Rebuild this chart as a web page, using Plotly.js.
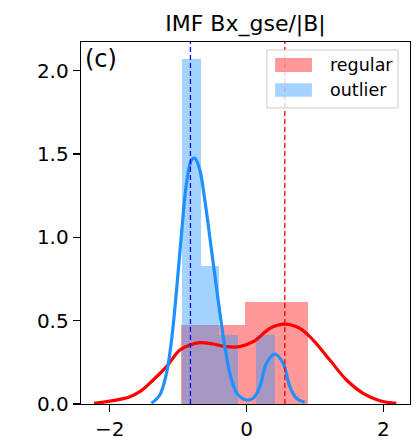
<!DOCTYPE html>
<html>
<head>
<meta charset="utf-8">
<script src="https://cdn.plot.ly/plotly-3.0.1.min.js"></script>
<style>
  html, body { margin: 0; padding: 0; background: #fff; }
  #chart { width: 416px; height: 442px; }
</style>
</head>
<body>
<div id="chart"></div>
<script>
// ── Data ─────────────────────────────────────────────────────────────────────
// Histogram bin edges + density heights
const regularEdges   = [-0.955, -0.4875, -0.025, 0.4375, 0.905];
const regularDensity = [0.474, 0.474, 0.61, 0.61];
const outlierEdges   = [-0.94, -0.669, -0.398, -0.127, 0.144, 0.415];
const outlierDensity = [2.07, 0.828, 0.414, 0, 0.414];

// KDE curves (sampled by eye)
const regularKdeX = [-2.23, -1.95, -1.706, -1.56, -1.365, -1.17, -0.975, -0.829, -0.683, -0.488,
                     -0.292, -0.098, 0.097, 0.195, 0.34, 0.56, 0.78, 0.974, 1.218, 1.462,
                     1.705, 1.949, 2.19];
const regularKdeY = [0.004, 0.02, 0.044, 0.074, 0.144, 0.224, 0.324, 0.354, 0.368, 0.36,
                     0.344, 0.344, 0.374, 0.404, 0.454, 0.48, 0.454, 0.384, 0.264, 0.144,
                     0.064, 0.02, 0.004];
const outlierKdeX = [-1.39, -1.268, -1.17, -1.096, -1.023, -0.95, -0.877, -0.804, -0.756, -0.683,
                     -0.61, -0.512, -0.415, -0.317, -0.219, -0.122, 0.0, 0.097, 0.195, 0.292,
                     0.414, 0.535, 0.633, 0.731, 0.852];
const outlierKdeY = [0.004, 0.054, 0.184, 0.384, 0.684, 1.025, 1.325, 1.465, 1.475, 1.405,
                     1.224, 0.924, 0.624, 0.344, 0.144, 0.054, 0.024, 0.034, 0.104, 0.244,
                     0.30, 0.244, 0.104, 0.034, 0.01];

// Means (dashed verticals)
const regularMean = 0.56;
const outlierMean = -0.82;

const seriesNames = ['regular', 'outlier'];
const xTicks = [-2, 0, 2];
const yTicks = [0, 0.5, 1.0, 1.5, 2.0];

// ── Styling ──────────────────────────────────────────────────────────────────
const RED       = '#ff0000';
const BLUE      = '#1e90ff';   // dodgerblue
const RED_FILL  = 'rgba(255,0,0,0.4)';
const BLUE_FILL = 'rgba(30,144,255,0.4)';
const FONT      = 'DejaVu Sans, sans-serif';

// edges -> centers/widths
function bins(edges) {
  const c = [], w = [];
  for (let i = 0; i < edges.length - 1; i++) {
    c.push((edges[i] + edges[i + 1]) / 2);
    w.push(edges[i + 1] - edges[i]);
  }
  return { c, w };
}

const rb = bins(regularEdges);
const ob = bins(outlierEdges);

const traces = [
  { type: 'bar', x: rb.c, y: regularDensity, width: rb.w,
    marker: { color: RED_FILL, line: { width: 0 } }, hoverinfo: 'skip' },
  { type: 'scatter', mode: 'lines', x: regularKdeX, y: regularKdeY,
    line: { color: RED, width: 3.2, shape: 'spline', smoothing: 1 } },
  { type: 'bar', x: ob.c, y: outlierDensity, width: ob.w,
    marker: { color: BLUE_FILL, line: { width: 0 } }, hoverinfo: 'skip' },
  { type: 'scatter', mode: 'lines', x: outlierKdeX, y: outlierKdeY,
    line: { color: BLUE, width: 3.2, shape: 'spline', smoothing: 1 } },
];

// ── Legend (drawn by hand to get matplotlib-style wide swatches) ─────────────
const legendBox = { x0: 0.565, x1: 0.9635, y0: 0.818, y1: 0.978 };
const swatches = [
  { fill: RED_FILL,  y0: 0.917, y1: 0.956, ty: 0.9365 },
  { fill: BLUE_FILL, y0: 0.849, y1: 0.886, ty: 0.867 },
];

const shapes = [
  { type: 'line', xref: 'x', yref: 'paper', x0: outlierMean, x1: outlierMean, y0: 0, y1: 1,
    line: { color: '#0000ff', width: 1.3, dash: '5px,3px' } },
  { type: 'line', xref: 'x', yref: 'paper', x0: regularMean, x1: regularMean, y0: 0, y1: 1,
    line: { color: RED, width: 1.3, dash: '5px,3px' } },
  { type: 'rect', xref: 'paper', yref: 'paper', layer: 'above',
    x0: legendBox.x0, x1: legendBox.x1, y0: legendBox.y0, y1: legendBox.y1,
    fillcolor: 'rgba(255,255,255,0.8)', line: { color: '#cccccc', width: 1 } },
];
swatches.forEach(s => shapes.push({
  type: 'rect', xref: 'paper', yref: 'paper', layer: 'above',
  x0: 0.59, x1: 0.702, y0: s.y0, y1: s.y1,
  fillcolor: s.fill, line: { width: 0 },
}));

const annotations = [
  { text: '(c)', xref: 'paper', yref: 'paper', x: 0.006, y: 0.996,
    xanchor: 'left', yanchor: 'top', showarrow: false,
    font: { family: FONT, size: 24, color: '#000' } },
];
swatches.forEach((s, i) => annotations.push({
  text: seriesNames[i], xref: 'paper', yref: 'paper', x: 0.75, y: s.ty,
  xanchor: 'left', yanchor: 'middle', showarrow: false,
  font: { family: FONT, size: 17.5, color: '#000' },
}));

const axisCommon = {
  showline: true, mirror: true, linecolor: '#000', linewidth: 1.3,
  ticks: 'outside', ticklen: 7, tickwidth: 1.3, tickcolor: '#000',
  showgrid: false, zeroline: false,
  tickfont: { family: FONT, size: 20, color: '#000' },
  fixedrange: true,
};

const layout = {
  width: 416, height: 442,
  margin: { l: 81, r: 6, t: 42, b: 38, pad: 0 },
  paper_bgcolor: '#fff', plot_bgcolor: '#fff',
  font: { family: FONT, color: '#000' },
  showlegend: false,
  barmode: 'overlay', bargap: 0,
  title: {
    text: 'IMF Bx_gse/|B|',
    font: { family: FONT, size: 22, color: '#000' },
    xref: 'paper', x: 0.5, xanchor: 'center',
    yref: 'container', y: 0.948, yanchor: 'middle',
  },
  xaxis: Object.assign({}, axisCommon, {
    range: [-2.42, 2.39], tickvals: xTicks, ticktext: xTicks.map(v => (v < 0 ? '\u2212' + (-v) : String(v))),
  }),
  yaxis: Object.assign({}, axisCommon, {
    range: [0, 2.173], tickvals: yTicks, tickformat: '.1f',
  }),
  shapes, annotations,
};

Plotly.newPlot('chart', traces, layout, { displayModeBar: false, staticPlot: true });
</script>
</body>
</html>
